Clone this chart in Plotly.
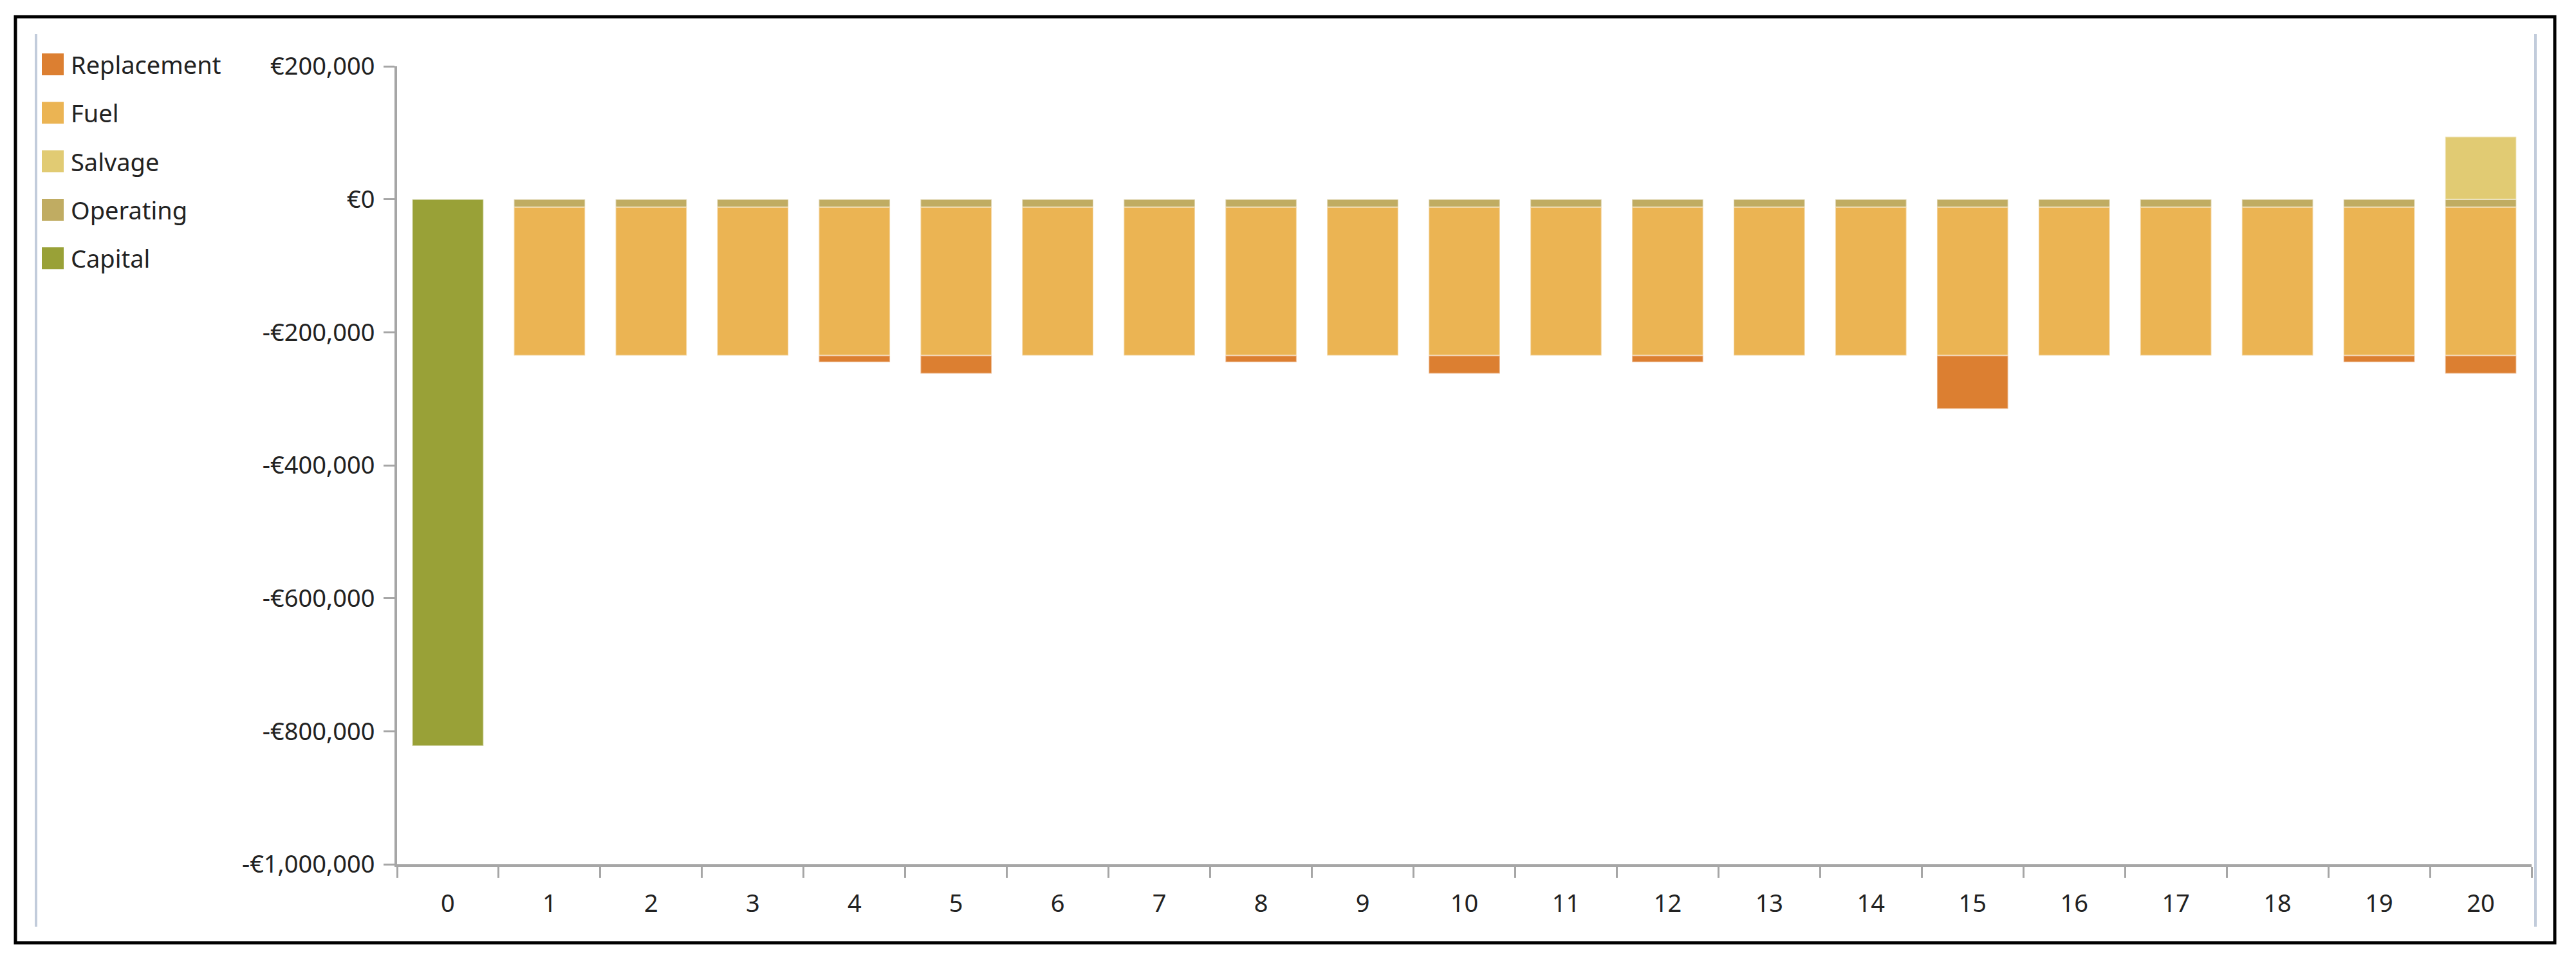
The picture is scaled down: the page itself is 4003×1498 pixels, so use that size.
import plotly.graph_objects as go

# ---------------- data ----------------
years = ["0", "1", "2", "3", "4", "5", "6", "7", "8", "9", "10",
         "11", "12", "13", "14", "15", "16", "17", "18", "19", "20"]

operating = [None, -12000, -12000, -12000, -12000, -12000, -12000, -12000, -12000, -12000, -12000,
             -12000, -12000, -12000, -12000, -12000, -12000, -12000, -12000, -12000, -12000]
fuel = [None, -223000, -223000, -223000, -223000, -223000, -223000, -223000, -223000, -223000, -223000,
        -223000, -223000, -223000, -223000, -223000, -223000, -223000, -223000, -223000, -223000]
replacement = [None, None, None, None, -10000, -27000, None, None, -10000, None, -27000,
               None, -10000, None, None, -80000, None, None, None, -10000, -27000]
capital = [-822000, None, None, None, None, None, None, None, None, None, None,
           None, None, None, None, None, None, None, None, None, None]
salvage = [None, None, None, None, None, None, None, None, None, None, None,
           None, None, None, None, None, None, None, None, None, 94000]

series_names = ["Replacement", "Fuel", "Salvage", "Operating", "Capital"]
series_colors = {
    "Replacement": "#DC7F31",
    "Fuel": "#EBB453",
    "Salvage": "#E1CB73",
    "Operating": "#C0AC62",
    "Capital": "#99A137",
}

y_tickvals = [-1000000, -800000, -600000, -400000, -200000, 0, 200000]
y_ticktext = ["-€1,000,000", "-€800,000", "-€600,000", "-€400,000", "-€200,000", "€0", "€200,000"]

# ---------------- figure ----------------
OFF = 8  # page body margin
W, H = 4003 - 2 * OFF, 1498 - 2 * OFF
PW, PH = 3317, 1240
L, T = 617 - OFF, 103 - OFF
R, B = W - L - PW, H - T - PH

FONT = "Segoe UI, Noto Sans, sans-serif"
TXT = "#222222"
AX = "#a6a6a6"

fig = go.Figure()
stack = [("Operating", operating), ("Fuel", fuel), ("Replacement", replacement),
         ("Capital", capital), ("Salvage", salvage)]
for name, vals in stack:
    fig.add_trace(go.Bar(
        x=years, y=vals, name=name, showlegend=False,
        marker=dict(color=series_colors[name],
                    line=dict(color="rgba(255,255,255,0.45)", width=2)),
    ))


def px_x(px):
    return (px - OFF - L) / PW


def px_y(py):
    return (T + PH - (py - OFF)) / PH


shapes = []
annotations = []
# outer black frame
shapes.append(dict(type="rect", xref="paper", yref="paper",
                   x0=px_x(24), x1=px_x(3970), y0=px_y(1465), y1=px_y(26),
                   line=dict(color="black", width=5), fillcolor="rgba(0,0,0,0)", layer="above"))
# light panel edge lines
for xp in (56, 3940):
    shapes.append(dict(type="line", xref="paper", yref="paper",
                       x0=px_x(xp), x1=px_x(xp), y0=px_y(53), y1=px_y(1440),
                       line=dict(color="#c2ccdb", width=4)))

# custom legend (large swatches)
for i, name in enumerate(series_names):
    cy = 100 + i * 75.3
    shapes.append(dict(type="rect", xref="paper", yref="paper",
                       x0=px_x(65), x1=px_x(99), y0=px_y(cy + 17), y1=px_y(cy - 17),
                       fillcolor=series_colors[name], line=dict(width=0)))
    annotations.append(dict(xref="paper", yref="paper", x=px_x(108), y=px_y(cy),
                            xanchor="left", yanchor="middle", showarrow=False,
                            text=name, font=dict(family=FONT, size=38, color=TXT)))

fig.update_layout(
    width=W, height=H,
    margin=dict(l=L, r=R, t=T, b=B, pad=0),
    paper_bgcolor="white", plot_bgcolor="white",
    barmode="relative", bargap=0.30,
    showlegend=False,
    font=dict(family=FONT, size=38, color=TXT),
    shapes=shapes, annotations=annotations,
    xaxis=dict(
        type="category", categoryorder="array", categoryarray=years,
        showline=True, linecolor=AX, linewidth=4,
        ticks="outside", tickson="boundaries", ticklen=17, tickwidth=3, tickcolor=AX,
        showgrid=False, zeroline=False,
        tickfont=dict(family=FONT, size=38, color=TXT),
        ticklabelstandoff=24,
    ),
    yaxis=dict(
        range=[-1000000, 200000],
        tickvals=y_tickvals, ticktext=y_ticktext,
        showline=True, linecolor=AX, linewidth=4,
        ticks="outside", ticklen=17, tickwidth=3, tickcolor=AX,
        showgrid=False, zeroline=False,
        tickfont=dict(family=FONT, size=38, color=TXT),
        ticklabelstandoff=6,
    ),
)

fig.write_html("out.html")
